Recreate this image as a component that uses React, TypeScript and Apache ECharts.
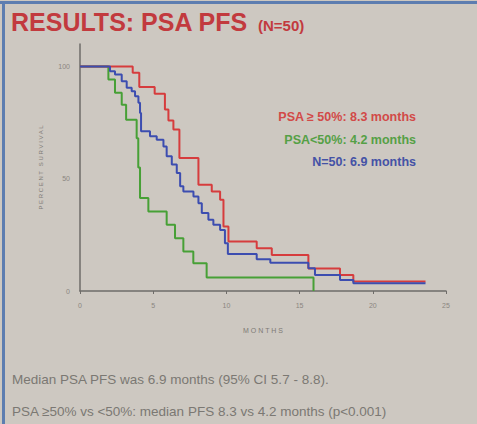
import React, { useEffect, useRef } from "react";
import * as echarts from "echarts";

// Kaplan-Meier step curves: [month, proportion progression-free from that month on]
const psaHigh: [number, number][] = [
  [0, 1], [3.6, 0.972], [4.05, 0.908], [5.1, 0.878], [5.8, 0.808], [6.04, 0.759],
  [6.38, 0.719], [6.79, 0.592], [8.09, 0.473], [9.0, 0.443], [9.57, 0.406],
  [9.8, 0.287], [10.14, 0.22], [12.07, 0.19], [13.1, 0.16], [15.6, 0.1],
  [17.76, 0.071], [18.67, 0.042], [23.6, 0.042],
];
const psaLow: [number, number][] = [
  [0, 1], [1.94, 0.942], [2.39, 0.883], [2.85, 0.83], [3.15, 0.763], [3.87, 0.68],
  [3.98, 0.55], [4.1, 0.414], [4.67, 0.354], [5.92, 0.295], [6.49, 0.235],
  [7.06, 0.176], [7.74, 0.124], [8.65, 0.06], [15.95, 0],
];
const allPts: [number, number][] = [
  [0, 1], [2.05, 0.979], [2.39, 0.964], [2.85, 0.934], [3.19, 0.905], [3.53, 0.89],
  [3.76, 0.867], [3.99, 0.838], [4.1, 0.793], [4.17, 0.711], [4.78, 0.689],
  [5.24, 0.674], [5.7, 0.644], [5.92, 0.6], [6.27, 0.563], [6.61, 0.525],
  [6.84, 0.466], [7.06, 0.443], [7.75, 0.421], [8.09, 0.391], [8.32, 0.347],
  [8.77, 0.317], [9.11, 0.295], [9.57, 0.272], [9.9, 0.213], [10.1, 0.165],
  [12.07, 0.141], [13.0, 0.126], [15.6, 0.101], [16.05, 0.071], [17.76, 0.049],
  [18.67, 0.034], [23.6, 0.034],
];
const censorHigh: [number, number][] = [[23.6, 0.042]];
const censorAll: [number, number][] = [[23.6, 0.034]];

const yTickLabels: Record<string, string> = { "0": "0", "0.5": "50", "1": "100" };

const titleMain = "RESULTS: PSA PFS";
const titleSub = "(N=50)";
const notes = [
  { text: "PSA ≥ 50%: 8.3 months", color: "#d24a48" },
  { text: "PSA<50%: 4.2 months", color: "#55a046" },
  { text: "N=50: 6.9 months", color: "#4452a6" },
];
const footer = [
  "Median PSA PFS was 6.9 months (95% CI 5.7 - 8.8).",
  "PSA ≥50% vs <50%: median PFS 8.3 vs 4.2 months (p<0.001)",
];

const FONT = "'Liberation Sans', Arial, sans-serif";
const RED = "#d63c3d";
const GREEN = "#47a036";
const BLUE = "#3c4db0";

export default function App() {
  const ref = useRef<HTMLDivElement>(null);
  useEffect(() => {
    if (!ref.current) return;
    const chart = echarts.init(ref.current, undefined, { renderer: "svg" });
    const censorSymbol = "path://M0,0L0,10";
    chart.setOption({
      animation: false,
      backgroundColor: "#cdc8c1",
      grid: { left: 80, right: 31, top: 44, bottom: 133 },
      xAxis: {
        type: "value",
        min: 0,
        max: 25,
        interval: 5,
        name: "M O N T H S",
        nameLocation: "middle",
        nameGap: 36,
        nameTextStyle: { fontSize: 7, color: "#7d7a75", fontFamily: FONT },
        axisLine: { lineStyle: { color: "#6e6c69", width: 1.5 } },
        axisTick: { show: true, length: 3, lineStyle: { color: "#6e6c69" } },
        axisLabel: { fontSize: 7, color: "#8a8680", margin: 11, fontFamily: FONT },
        splitLine: { show: false },
      },
      yAxis: {
        type: "value",
        min: 0,
        max: 1.1,
        interval: 0.5,
        name: "P E R C E N T   S U R V I V A L",
        nameLocation: "middle",
        nameRotate: 90,
        nameGap: 36,
        nameTextStyle: { fontSize: 6, color: "#7d7a75", fontFamily: FONT },
        axisLine: { show: true, lineStyle: { color: "#6e6c69", width: 1.5 } },
        axisTick: { show: false },
        axisLabel: {
          fontSize: 7,
          color: "#8a8680",
          margin: 10,
          fontFamily: FONT,
          formatter: (v: number) => yTickLabels[String(Math.round(v * 100) / 100)] ?? "",
        },
        splitLine: { show: false },
      },
      series: [
        { type: "line", step: "end", data: psaLow, symbol: "none", lineStyle: { color: GREEN, width: 2 }, z: 3 },
        { type: "line", step: "end", data: psaHigh, symbol: "none", lineStyle: { color: RED, width: 2 }, z: 4 },
        { type: "line", step: "end", data: allPts, symbol: "none", lineStyle: { color: BLUE, width: 2 }, z: 5 },
        {
          type: "scatter", data: censorHigh, symbol: censorSymbol, symbolSize: [2, 7], symbolOffset: [0, -3],
          itemStyle: { color: RED, borderColor: RED, borderWidth: 1.5 }, z: 6,
        },
        {
          type: "scatter", data: censorAll, symbol: censorSymbol, symbolSize: [2, 7], symbolOffset: [0, -3],
          itemStyle: { color: BLUE, borderColor: BLUE, borderWidth: 1.5 }, z: 7,
        },
      ],
      graphic: [
        { type: "rect", shape: { x: 0, y: 1, width: 477, height: 3 }, style: { fill: "#5d7db0" }, silent: true },
        { type: "rect", shape: { x: 2, y: 1, width: 3, height: 423 }, style: { fill: "#5d7db0" }, silent: true },
        {
          type: "text", x: 11, y: 22,
          style: { text: titleMain, fill: "#c23a3e", font: `bold 25px ${FONT}`, verticalAlign: "middle" },
        },
        {
          type: "text", x: 258, y: 25,
          style: { text: titleSub, fill: "#c23a3e", font: `bold 15px ${FONT}`, verticalAlign: "middle" },
        },
        ...notes.map((n, i) => ({
          type: "text", x: 416, y: 117 + i * 22.5,
          style: { text: n.text, fill: n.color, font: `bold 12.5px ${FONT}`, align: "right", verticalAlign: "middle" },
        })),
        ...footer.map((t, i) => ({
          type: "text", x: 12, y: 379 + i * 32,
          style: { text: t, fill: "#7b7873", font: `13.5px ${FONT}`, verticalAlign: "middle" },
        })),
      ],
    });
    return () => chart.dispose();
  }, []);
  return (
    <div
      ref={ref}
      style={{ position: "fixed", left: 0, top: 0, width: 477, height: 424 }}
    />
  );
}
